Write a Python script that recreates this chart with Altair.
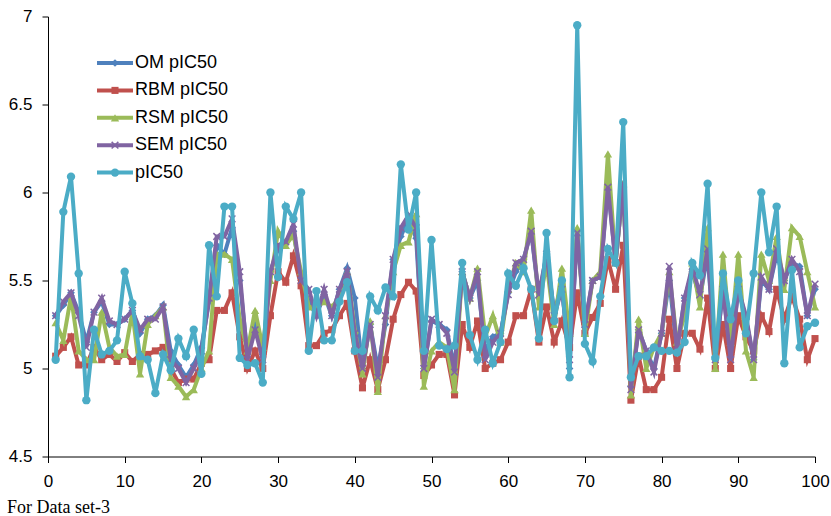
import altair as alt
import pandas as pd

x_vals = list(range(1, 101))

om = [5.30, 5.36, 5.43, 5.32, 5.15, 5.32, 5.38, 5.25, 5.25, 5.28,
      5.33, 5.20, 5.28, 5.30, 5.36, 5.10, 5.02, 4.95, 5.02, 5.12,
      5.38, 5.70, 5.65, 5.80, 5.50, 5.08, 5.25, 5.08, 5.55, 5.68,
      5.72, 5.78, 5.50, 5.38, 5.30, 5.42, 5.30, 5.45, 5.57, 5.40,
      5.00, 5.25, 5.00, 5.25, 5.62, 5.75, 5.85, 5.74, 5.00, 5.27,
      5.25, 5.22, 5.00, 5.55, 5.40, 5.50, 5.10, 5.18, 5.20, 5.43,
      5.55, 5.62, 5.78, 5.40, 5.65, 5.32, 5.48, 5.00, 5.78, 5.25,
      5.50, 5.52, 6.05, 5.60, 6.05, 4.90, 5.22, 5.10, 5.00, 5.20,
      5.50, 5.10, 5.40, 5.55, 5.40, 5.65, 5.05, 5.45, 5.08, 5.45,
      5.28, 5.05, 5.50, 5.45, 5.65, 5.50, 5.60, 5.58, 5.30, 5.45]

rbm = [5.07, 5.12, 5.18, 5.02, 5.02, 5.12, 5.05, 5.08, 5.04, 5.09,
       5.04, 5.08, 5.08, 5.10, 5.12, 5.00, 4.92, 4.94, 4.94, 5.03,
       5.05, 5.33, 5.33, 5.43, 5.18, 5.00, 5.10, 5.00, 5.30, 5.55,
       5.49, 5.64, 5.47, 5.13, 5.13, 5.20, 5.22, 5.30, 5.37, 5.10,
       4.89, 5.05, 4.88, 5.05, 5.28, 5.42, 5.49, 5.44, 4.96, 5.02,
       5.08, 5.08, 4.85, 5.25, 5.12, 5.27, 5.00, 5.03, 5.05, 5.15,
       5.30, 5.30, 5.45, 5.15, 5.35, 5.15, 5.27, 5.12, 5.43, 5.20,
       5.29, 5.37, 5.62, 5.45, 5.70, 4.82, 5.07, 4.88, 4.88, 4.95,
       5.28, 5.00, 5.20, 5.20, 5.11, 5.40, 5.00, 5.25, 5.00, 5.30,
       5.18, 5.10, 5.30, 5.21, 5.45, 5.28, 5.41, 5.28, 5.05, 5.17]

rsm = [5.26, 5.16, 5.41, 5.10, 5.05, 5.05, 5.32, 5.12, 5.07, 5.08,
       5.32, 4.97, 5.25, 5.30, 5.35, 4.95, 4.90, 4.84, 4.88, 5.00,
       5.10, 5.65, 5.65, 5.62, 5.28, 5.10, 5.33, 5.12, 5.50, 5.78,
       5.70, 5.76, 5.55, 5.35, 5.35, 5.38, 5.35, 5.40, 5.55, 5.22,
       4.97, 5.27, 4.87, 5.30, 5.55, 5.70, 5.72, 5.88, 4.90, 5.10,
       5.15, 5.12, 4.88, 5.55, 5.40, 5.57, 5.18, 5.30, 5.15, 5.45,
       5.60, 5.55, 5.90, 5.35, 5.60, 5.25, 5.57, 5.20, 5.80, 5.20,
       5.50, 5.55, 6.22, 5.60, 6.05, 4.85, 5.28, 5.00, 5.12, 5.20,
       5.55, 5.15, 5.30, 5.60, 5.35, 5.80, 5.00, 5.65, 5.15, 5.65,
       5.10, 4.95, 5.65, 5.50, 5.75, 5.45, 5.80, 5.75, 5.55, 5.35]

sem = [5.30, 5.38, 5.43, 5.30, 5.12, 5.32, 5.40, 5.27, 5.25, 5.28,
       5.33, 5.22, 5.28, 5.28, 5.35, 5.05, 5.00, 4.92, 5.00, 5.10,
       5.40, 5.75, 5.75, 5.85, 5.55, 5.05, 5.22, 5.05, 5.55, 5.70,
       5.72, 5.82, 5.50, 5.45, 5.30, 5.45, 5.30, 5.45, 5.55, 5.20,
       5.00, 5.25, 4.95, 5.30, 5.62, 5.80, 5.87, 5.80, 5.00, 5.28,
       5.25, 5.20, 4.98, 5.55, 5.40, 5.55, 5.05, 5.15, 5.20, 5.42,
       5.60, 5.62, 5.78, 5.42, 5.65, 5.30, 5.45, 5.05, 5.77, 5.25,
       5.50, 5.52, 6.03, 5.60, 6.05, 4.88, 5.22, 5.10, 4.98, 5.20,
       5.58, 5.10, 5.40, 5.58, 5.42, 5.68, 5.05, 5.45, 5.05, 5.45,
       5.30, 5.05, 5.52, 5.45, 5.68, 5.50, 5.62, 5.55, 5.30, 5.48]

pic50 = [5.05, 5.89, 6.09, 5.54, 4.82, 5.22, 5.08, 5.10, 5.16, 5.55,
         5.37, 5.07, 5.05, 4.86, 5.08, 4.99, 5.17, 5.07, 5.22, 4.97,
         5.70, 5.41, 5.92, 5.92, 5.06, 5.02, 5.03, 4.92, 6.00, 5.52,
         5.92, 5.85, 6.00, 5.10, 5.44, 5.16, 5.16, 5.38, 5.49, 5.10,
         5.10, 5.41, 5.33, 5.46, 5.41, 6.16, 5.79, 6.00, 5.10, 5.73,
         5.13, 5.11, 5.13, 5.60, 5.19, 5.05, 5.22, 5.03, 5.15, 5.54,
         5.47, 5.57, 5.45, 5.17, 5.77, 5.27, 5.50, 4.95, 6.95, 5.14,
         5.04, 5.41, 5.68, 5.60, 6.40, 4.95, 5.07, 5.07, 5.12, 5.10,
         5.10, 5.09, 5.15, 5.60, 5.53, 6.05, 5.06, 5.54, 5.28, 5.50,
         5.20, 5.54, 6.00, 5.66, 5.92, 5.03, 5.56, 5.12, 5.24, 5.26]

series_names = ["OM pIC50", "RBM pIC50", "RSM pIC50", "SEM pIC50", "pIC50"]
series_values = [om, rbm, rsm, sem, pic50]
colors = ["#4F81BD", "#C0504D", "#9BBB59", "#8064A2", "#4BACC6"]
X_PATH = "M-1,-1L1,1M-1,1L1,-1"
shapes = ["diamond", "square", "triangle-up", X_PATH, "circle"]
sizes = [60, 50, 70, 45, 70]

x_ticks = list(range(0, 101, 10))
y_ticks = [4.5, 5, 5.5, 6, 6.5, 7]

FONT = "Liberation Sans"

x_scale = alt.Scale(domain=[0, 100], nice=False, zero=False)
y_scale = alt.Scale(domain=[4.5, 7], nice=False, zero=False)

x_axis = alt.Axis(values=x_ticks, title=None, grid=False, tickSize=6,
                  domainColor="#000000", tickColor="#000000",
                  labelColor="#000000", labelFontSize=17, labelFont=FONT,
                  labelPadding=11, labelFlush=False, labelOverlap=False)
y_axis = alt.Axis(values=y_ticks, title=None, grid=False, tickSize=6,
                  domainColor="#000000", tickColor="#000000",
                  labelColor="#000000", labelFontSize=17, labelFont=FONT,
                  labelPadding=10, labelExpr="'' + datum.value",
                  labelFlush=False, labelOverlap=False)

layers = []
for k, (name, vals, color, shape, sz) in enumerate(
        zip(series_names, series_values, colors, shapes, sizes)):
    df = pd.DataFrame({"x": x_vals, "y": vals, "series": name})
    base = alt.Chart(df).encode(
        x=alt.X("x:Q", scale=x_scale, axis=x_axis),
        y=alt.Y("y:Q", scale=y_scale, axis=y_axis),
    )
    layers.append(base.mark_line(color=color, strokeWidth=4))
    if shape == X_PATH:
        layers.append(base.mark_point(shape=shape, filled=False, stroke=color,
                                      strokeWidth=1.5, size=sz, opacity=1))
    else:
        layers.append(base.mark_point(shape=shape, filled=True, color=color,
                                      size=sz, opacity=1))

# legend (inside the plot, top-left)
for k, (name, color, shape, sz) in enumerate(zip(series_names, colors, shapes, sizes)):
    ly = 46.5 + 27.4 * k
    ldf = pd.DataFrame({"name": [name]})
    lbase = alt.Chart(ldf)
    layers.append(lbase.mark_rule(color=color, strokeWidth=4).encode(
        x=alt.value(49), x2=alt.value(85), y=alt.value(ly)))
    if shape == X_PATH:
        layers.append(lbase.mark_point(shape=shape, filled=False, stroke=color,
                                       strokeWidth=1.5, size=sz, opacity=1).encode(
            x=alt.value(67), y=alt.value(ly)))
    else:
        layers.append(lbase.mark_point(shape=shape, filled=True, color=color,
                                       size=sz, opacity=1).encode(
            x=alt.value(67), y=alt.value(ly)))
    layers.append(lbase.mark_text(align="left", baseline="middle", fontSize=18,
                                  font=FONT, color="#000000").encode(
        x=alt.value(87), y=alt.value(ly), text="name:N"))

caption_df = pd.DataFrame({"caption": ["For Data set-3"]})
layers.append(alt.Chart(caption_df).mark_text(
    align="left", baseline="middle", fontSize=18, font="Liberation Serif",
    color="#000000").encode(x=alt.value(-41), y=alt.value(491), text="caption:N"))

chart = alt.layer(*layers).properties(
    width=767, height=440,
    autosize=alt.AutoSizeParams(type="none"),
    padding={"left": 48, "top": 16.5, "right": 16, "bottom": 59.5},
    background="#ffffff",
).configure_view(stroke=None)

chart.save("out.html", embed_options={"renderer": "svg", "actions": False})
